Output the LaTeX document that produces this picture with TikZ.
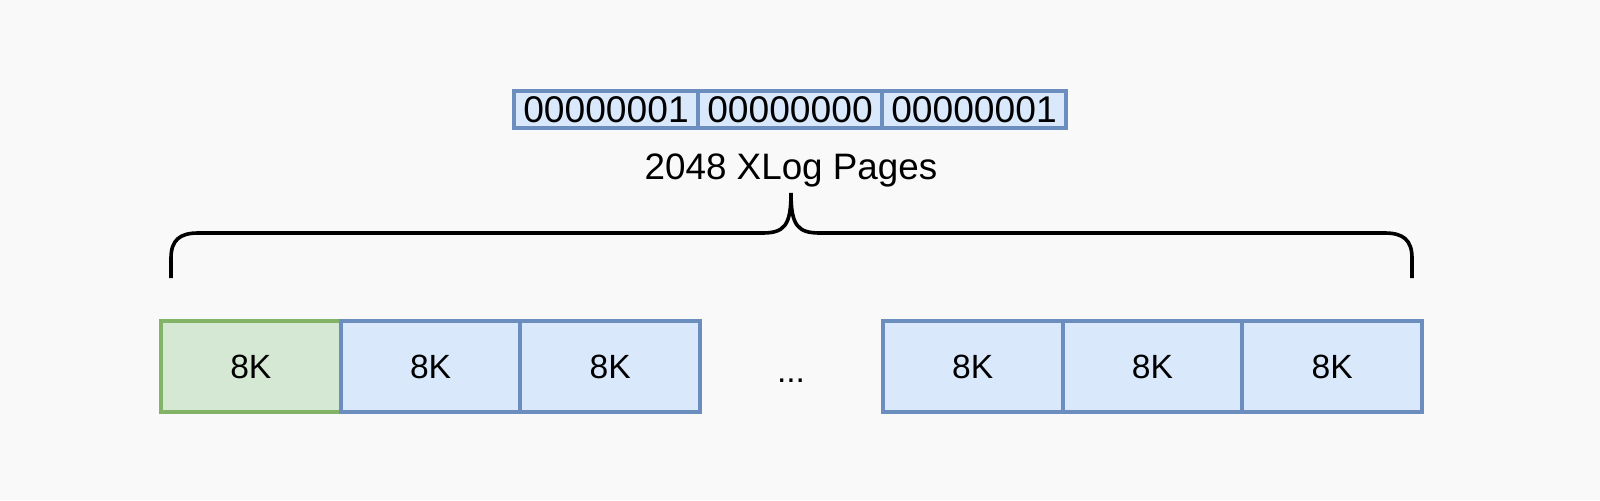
\documentclass[tikz,border=0pt]{standalone}
\usepackage{fontspec}
\setmainfont{Liberation Sans}
\definecolor{bg}{HTML}{F9F9F9}
\definecolor{bluefill}{HTML}{DAE8FC}
\definecolor{blueline}{HTML}{6C8EBF}
\definecolor{greenfill}{HTML}{D5E8D4}
\definecolor{greenline}{HTML}{82B366}
\begin{document}
\begin{tikzpicture}[x=0.5pt,y=-0.5pt,
  page/.style={draw=blueline,fill=bluefill,line width=2pt,minimum width=89.85pt,minimum height=45.5pt,inner sep=0pt,font=\fontsize{16.8}{19}\selectfont},
  firstpage/.style={page,draw=greenline,fill=greenfill},
  bits/.style={draw=blueline,fill=bluefill,line width=2pt,minimum width=92pt,minimum height=18.5pt,inner sep=0pt,font=\fontsize{18.6}{21}\selectfont},
  brace/.style={draw=black,line width=1.8pt},
  label/.style={font=\fontsize{18.4}{21}\selectfont,anchor=base,inner sep=0pt}]
\fill[bg] (0,0) rectangle (1600,500);
\useasboundingbox (0,0) rectangle (1600,500);
% top bit boxes
\node[bits] (b1) at (606,109.5) {00000001};
\node[bits] (b2) at (790,109.5) {00000000};
\node[bits] (b3) at (974,109.5) {00000001};
% label
\node[label] (lbl) at (791,179) {2048 XLog Pages};
% brace
\coordinate (bl) at (171,278);
\coordinate (tip) at (791,193);
\coordinate (br) at (1412,278);
\draw[brace] (bl) -- (171,258) .. controls (171,240) and (180,233) .. (198,233)
  -- (762,233) .. controls (784,233) and (791,226) .. (tip)
  .. controls (791,226) and (798,233) .. (820,233)
  -- (1385,233) .. controls (1403,233) and (1412,240) .. (1412,258) -- (br);
% pages
\node[firstpage] (p1) at (250.85,366.5) {\raisebox{-2pt}{8K}};
\node[page] (p2) at (430.55,366.5) {\raisebox{-2pt}{8K}};
\node[page] (p3) at (610.25,366.5) {\raisebox{-2pt}{8K}};
\node[font=\fontsize{16.8}{19}\selectfont,anchor=base,inner sep=0pt] (dots) at (791,382) {...};
\node[page] (p4) at (972.75,366.5) {\raisebox{-2pt}{8K}};
\node[page] (p5) at (1152.45,366.5) {\raisebox{-2pt}{8K}};
\node[page] (p6) at (1332.15,366.5) {\raisebox{-2pt}{8K}};
\end{tikzpicture}
\end{document}
